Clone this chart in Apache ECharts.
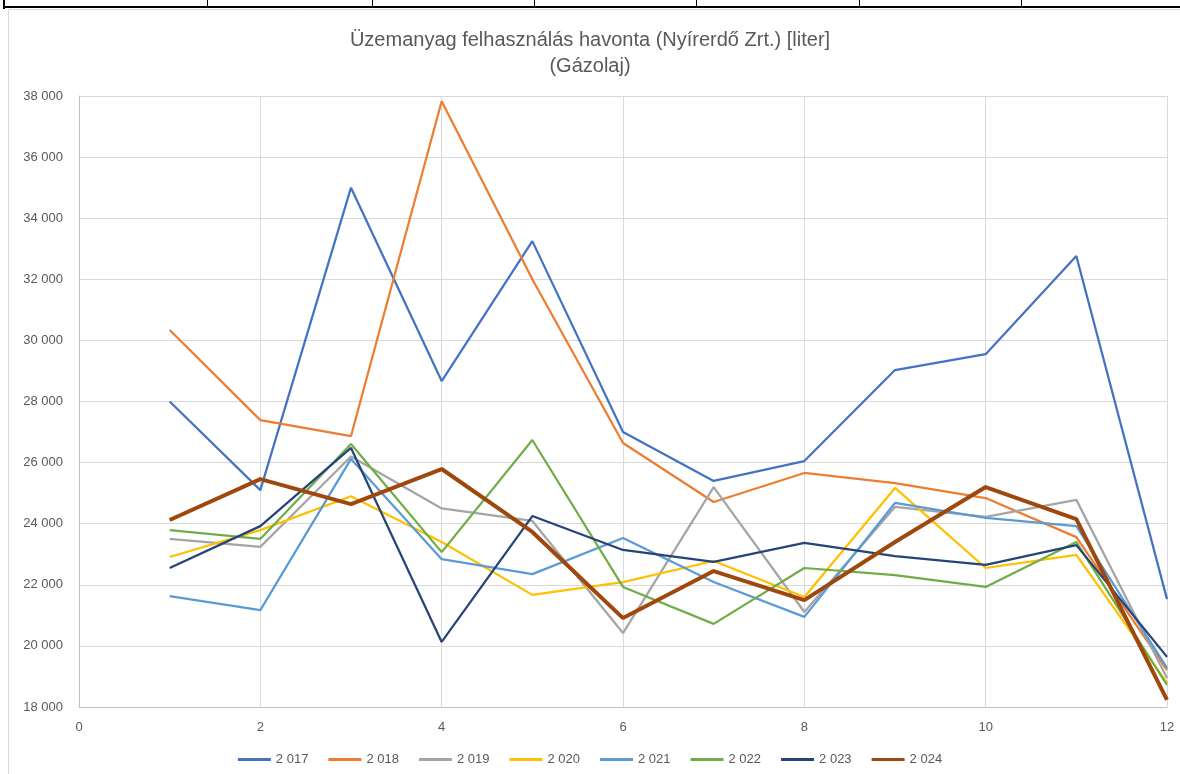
<!DOCTYPE html>
<html>
<head>
	<meta charset="UTF-8">
	<title>Üzemanyag felhasználás havonta</title>
	<script src="https://cdn.jsdelivr.net/npm/echarts@6/dist/echarts.min.js"></script>
	<style>
		html, body { margin:0; padding:0; background:#fff; }
		#chart { width:1180px; height:774px; }
	</style>
</head>
<body>
<div id="chart"></div>

<script type="text/javascript">
	// hónapok (x tengely)
	var months = [1, 2, 3, 4, 5, 6, 7, 8, 9, 10, 11, 12];

	// évenkénti gázolaj felhasználás [liter], leolvasva
	var y2017 = [28000, 25100, 35000, 28670, 33250, 27000, 25400, 26050, 29030, 29550, 32760, 21530];
	var y2018 = [30340, 27390, 26870, 37830, 32000, 26640, 24710, 25660, 25330, 24840, 23560, 19210];
	var y2019 = [23500, 23240, 26200, 24500, 24090, 20420, 25200, 21110, 24550, 24220, 24780, 18950];
	var y2020 = [22910, 23790, 24900, 23400, 21670, 22090, 22780, 21600, 25170, 22550, 22980, 18790];
	var y2021 = [21630, 21170, 26120, 22840, 22350, 23530, 22090, 20950, 24680, 24190, 23920, 19280];
	var y2022 = [23790, 23500, 26610, 23070, 26740, 21930, 20720, 22550, 22320, 21930, 23400, 18720];
	var y2023 = [22550, 23920, 26480, 20130, 24250, 23140, 22750, 23370, 22940, 22650, 23300, 19640];
	var y2024 = [24120, 25460, 24640, 25790, 23730, 20910, 22450, 21500, 23400, 25200, 24150, 18230];

	var seriesNames = ['2 017', '2 018', '2 019', '2 020', '2 021', '2 022', '2 023', '2 024'];
	var seriesValues = [y2017, y2018, y2019, y2020, y2021, y2022, y2023, y2024];
	var seriesColors = ['#4472C4', '#ED7D31', '#A5A5A5', '#FFC000', '#5B9BD5', '#70AD47', '#264478', '#9E480E'];

	var font = 'Liberation Sans, Arial, sans-serif';

	function spaced(v)
	{
		return String(v).replace(/\B(?=(\d{3})+(?!\d))/g, ' ');
	}

	var chart = echarts.init(document.getElementById('chart'));

	var series = [];
	for (var i = 0; i < seriesNames.length; i++)
	{
		var points = [];
		for (var j = 0; j < months.length; j++)
		{
			points.push([months[j], seriesValues[i][j]]);
		}
		series.push({
			name: seriesNames[i],
			type: 'line',
			data: points,
			symbol: 'none',
			z: i === 7 ? 10 : 2 + i,
			lineStyle: { color: seriesColors[i], width: i === 7 ? 4 : 2.25 },
			itemStyle: { color: seriesColors[i] }
		});
	}

	var option =
	{
		animation: false,
		backgroundColor: '#fff',
		textStyle: { fontFamily: font },
		title: {
			text: 'Üzemanyag felhasználás havonta (Nyírerdő Zrt.) [liter]\n(Gázolaj)',
			left: 'center',
			top: 22,
			textStyle: { color: '#595959', fontSize: 20, fontWeight: 'normal', lineHeight: 26, fontFamily: font }
		},
		graphic: [
			// táblázat szegélye fent
			{ type: 'line', shape: { x1: 3, y1: 7, x2: 1180, y2: 7 }, style: { stroke: '#000', lineWidth: 2 } },
			{ type: 'line', shape: { x1: 4, y1: 0, x2: 4, y2: 9 }, style: { stroke: '#000', lineWidth: 2 } },
			{ type: 'line', shape: { x1: 207.5, y1: 0, x2: 207.5, y2: 7 }, style: { stroke: '#000', lineWidth: 1 } },
			{ type: 'line', shape: { x1: 372.5, y1: 0, x2: 372.5, y2: 7 }, style: { stroke: '#000', lineWidth: 1 } },
			{ type: 'line', shape: { x1: 534.5, y1: 0, x2: 534.5, y2: 7 }, style: { stroke: '#000', lineWidth: 1 } },
			{ type: 'line', shape: { x1: 696.5, y1: 0, x2: 696.5, y2: 7 }, style: { stroke: '#000', lineWidth: 1 } },
			{ type: 'line', shape: { x1: 859.5, y1: 0, x2: 859.5, y2: 7 }, style: { stroke: '#000', lineWidth: 1 } },
			{ type: 'line', shape: { x1: 1021.5, y1: 0, x2: 1021.5, y2: 7 }, style: { stroke: '#000', lineWidth: 1 } },
			// diagramterület kerete
			{ type: 'line', shape: { x1: 8.5, y1: 9.5, x2: 1180, y2: 9.5 }, style: { stroke: '#D9D9D9', lineWidth: 1 } },
			{ type: 'line', shape: { x1: 8.5, y1: 9.5, x2: 8.5, y2: 774 }, style: { stroke: '#D9D9D9', lineWidth: 1 } }
		],
		grid: {
			left: 79,
			right: 13,
			top: 96,
			bottom: 67,
			containLabel: false
		},
		legend: {
			bottom: 3,
			left: 'center',
			icon: 'rect',
			itemWidth: 33,
			itemHeight: 3,
			itemGap: 20,
			data: seriesNames,
			textStyle: { color: '#595959', fontSize: 13, fontFamily: font }
		},
		xAxis: {
			type: 'value',
			min: 0,
			max: 12,
			interval: 2,
			axisLine: { show: true, lineStyle: { color: '#BFBFBF', width: 1 } },
			axisTick: { show: false },
			splitLine: { show: true, lineStyle: { color: '#D9D9D9', width: 1 } },
			axisLabel: { color: '#595959', fontSize: 13, margin: 14 }
		},
		yAxis: {
			type: 'value',
			min: 18000,
			max: 38000,
			interval: 2000,
			axisLine: { show: true, lineStyle: { color: '#BFBFBF', width: 1 } },
			axisTick: { show: false },
			splitLine: { show: true, lineStyle: { color: '#D9D9D9', width: 1 } },
			axisLabel: { color: '#595959', fontSize: 13, margin: 16, formatter: function(v){ return spaced(v); } }
		},
		series: series
	};
	chart.setOption(option);
</script>

</body>
</html>
